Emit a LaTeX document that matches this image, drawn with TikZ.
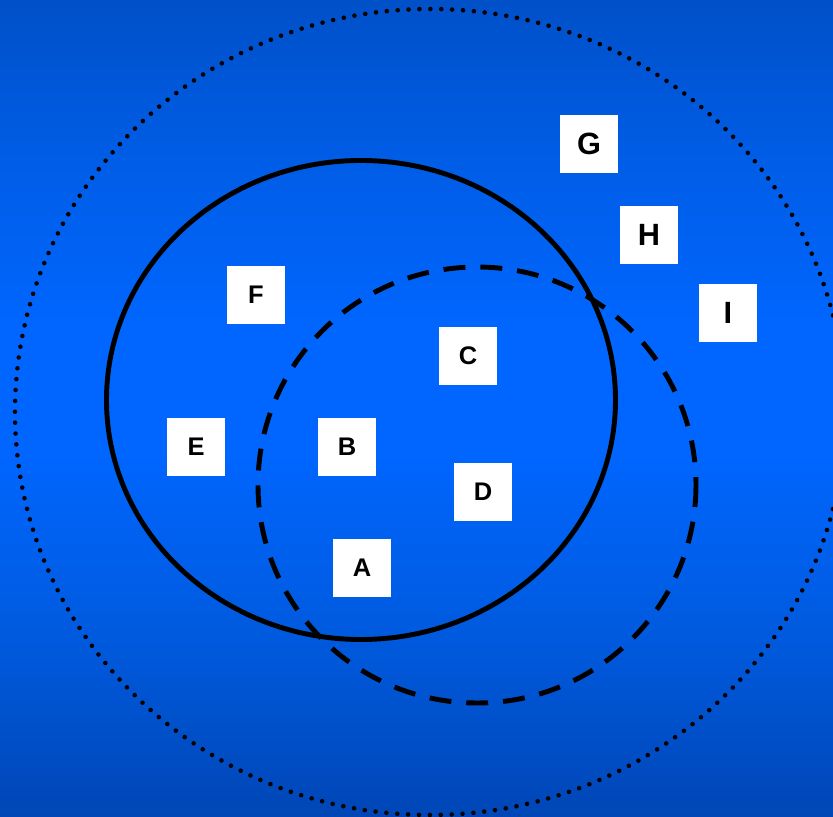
\documentclass[tikz,border=0pt]{standalone}
\usepackage{fontspec}
\setmainfont{Liberation Sans}
\definecolor{bgTop}{RGB}{0,80,200}
\definecolor{bgHigh}{RGB}{0,92,228}
\definecolor{bgMid}{RGB}{0,102,255}
\definecolor{bgLow}{RGB}{0,90,222}
\definecolor{bgBottom}{RGB}{0,70,182}
\pgfdeclareverticalshading{bgshade}{100bp}{color(0bp)=(bgBottom);
  color(25bp)=(bgBottom); color(36bp)=(bgLow); color(47.5bp)=(bgMid);
  color(55bp)=(bgMid); color(66bp)=(bgHigh); color(75bp)=(bgTop);
  color(100bp)=(bgTop)}
\tikzset{
  letterbox/.style = {fill=white, minimum size=1.16cm, inner sep=0pt,
                      font=\bfseries\fontsize{14.5}{16}\selectfont},
  bigbox/.style    = {letterbox, font=\bfseries\fontsize{17.5}{19}\selectfont},
  outerset/.style  = {line width=2.6pt, line cap=round, dash pattern=on 0pt off 6.2pt},
  solidset/.style  = {line width=2.8pt},
  dashset/.style   = {line width=2.8pt, dash pattern=on 12.5pt off 8.5pt}
}

\begin{document}
\begin{tikzpicture}[x=0.02cm, y=-0.02cm]
  % Background
  \shade[shading=bgshade] (0cm,0cm) rectangle (16.66cm,-16.34cm);
  \useasboundingbox (0,0) rectangle (833,817);

  % Centres
  \coordinate (outer) at (430,412);
  \coordinate (left) at (361,400);
  \coordinate (right) at (477,485);

  % Sets
  \draw[outerset] (outer) ellipse [x radius=415, y radius=403];
  \draw[solidset] (left) ellipse [x radius=254.5, y radius=239.5];
  \draw[dashset] (right) ellipse [x radius=219, y radius=218];

  % Elements
  \node[bigbox] (G) at (589,144) {G};
  \node[bigbox] (H) at (649,235) {H};
  \node[bigbox] (I) at (728,313) {I};
  \node[letterbox] (F) at (256,295) {F};
  \node[letterbox] (C) at (468,356) {C};
  \node[letterbox] (E) at (196,447) {E};
  \node[letterbox] (B) at (347,447) {B};
  \node[letterbox] (D) at (483,492) {D};
  \node[letterbox] (A) at (362,568) {A};
\end{tikzpicture}
\end{document}
